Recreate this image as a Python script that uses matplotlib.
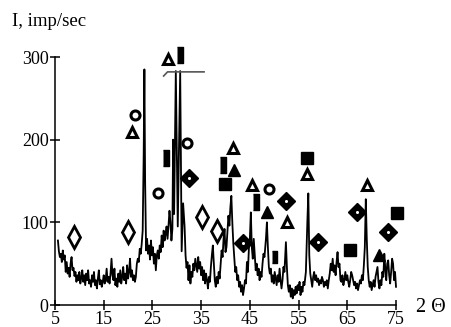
import matplotlib
matplotlib.use('Agg')
import matplotlib.pyplot as plt

# diffraction pattern
two_theta = [
    5.6, 5.8, 6.0, 6.2, 6.4, 6.6, 6.8, 7.0, 7.2, 7.4, 7.6, 7.8, 8.0, 8.2, 8.4, 8.6, 8.8,
    9.0, 9.2, 9.4, 9.6, 9.8, 10.0, 10.2, 10.4, 10.6, 10.8, 11.0, 11.2, 11.4, 11.6, 11.8,
    12.0, 12.2, 12.4, 12.6, 12.8, 13.0, 13.2, 13.4, 13.6, 13.8, 14.0, 14.2, 14.4, 14.6,
    14.8, 15.0, 15.2, 15.4, 15.6, 15.8, 16.0, 16.2, 16.4, 16.6, 16.8, 17.0, 17.2, 17.4,
    17.6, 17.8, 18.0, 18.2, 18.4, 18.6, 18.8, 19.0, 19.2, 19.4, 19.6, 19.8, 20.0, 20.2,
    20.4, 20.6, 20.8, 21.0, 21.2, 21.4, 21.6, 21.8, 22.0, 22.2, 22.4, 22.6, 22.8, 23.0,
    23.2, 23.35, 23.5, 23.7, 23.9, 24.1, 24.3, 24.5, 24.7, 24.9, 25.1, 25.3, 25.5, 25.7,
    25.9, 26.1, 26.3, 26.5, 26.7, 26.9, 27.1, 27.3, 27.5, 27.7, 27.9, 28.1, 28.3, 28.5,
    28.7, 28.9, 29.1, 29.25, 29.45, 29.8, 30.2, 30.7, 31.0, 31.3, 31.6, 31.8, 32.0, 32.2,
    32.4, 32.6, 32.8, 33.0, 33.2, 33.4, 33.6, 33.8, 34.0, 34.2, 34.4, 34.6, 34.8, 35.0,
    35.2, 35.4, 35.6, 35.8, 36.0, 36.2, 36.4, 36.6, 36.8, 37.0, 37.2, 37.4, 37.6, 37.8,
    38.0, 38.2, 38.4, 38.6, 38.8, 39.0, 39.2, 39.4, 39.6, 39.8, 40.0, 40.2, 40.4, 40.6,
    40.8, 41.0, 41.2, 41.4, 41.6, 41.8, 42.0, 42.2, 42.4, 42.6, 42.8, 43.0, 43.2, 43.4,
    43.6, 43.8, 44.0, 44.2, 44.4, 44.6, 44.8, 45.0, 45.2, 45.4, 45.6, 45.8, 46.0, 46.2,
    46.4, 46.6, 46.8, 47.0, 47.2, 47.4, 47.6, 47.8, 48.0, 48.3, 48.5, 48.7, 48.9, 49.1,
    49.3, 49.5, 49.7, 49.9, 50.1, 50.3, 50.5, 50.7, 50.9, 51.1, 51.3, 51.5, 51.7, 51.9,
    52.1, 52.4, 52.6, 52.8, 53.0, 53.2, 53.4, 53.6, 53.8, 54.0, 54.2, 54.4, 54.6, 54.8,
    55.0, 55.2, 55.4, 55.6, 55.8, 56.0, 56.2, 56.5, 56.8, 57.0, 57.2, 57.4, 57.6, 57.8,
    58.0, 58.2, 58.4, 58.6, 58.8, 59.0, 59.2, 59.4, 59.6, 59.8, 60.0, 60.2, 60.4, 60.6,
    60.8, 61.0, 61.2, 61.4, 61.6, 61.8, 62.0, 62.2, 62.4, 62.6, 62.8, 63.0, 63.2, 63.4,
    63.6, 63.8, 64.0, 64.2, 64.4, 64.6, 64.8, 65.0, 65.2, 65.4, 65.6, 65.8, 66.0, 66.2,
    66.4, 66.6, 66.8, 67.0, 67.2, 67.4, 67.6, 67.8, 68.0, 68.2, 68.4, 68.6, 68.8, 69.0,
    69.2, 69.4, 69.6, 69.8, 70.0, 70.2, 70.4, 70.6, 70.8, 71.0, 71.2, 71.4, 71.6, 71.8,
    72.0, 72.2, 72.4, 72.6, 72.8, 73.0, 73.2, 73.4, 73.6, 73.8, 74.0, 74.2, 74.4, 74.6,
    74.8, 75.0,
]
intensity = [
    78, 65, 58, 62, 52, 66, 55, 60, 40, 52, 38, 45, 34, 50, 58, 42, 45,
    35, 40, 28, 36, 30, 40, 26, 33, 42, 28, 36, 24, 38, 30, 42,
    26, 30, 22, 36, 28, 40, 24, 30, 20, 32, 42, 25, 30, 22,
    28, 36, 26, 30, 44, 28, 34, 26, 38, 56, 36, 30, 44, 24,
    32, 22, 38, 28, 42, 26, 34, 46, 30, 38, 26, 48, 32, 40,
    56, 34, 42, 30, 36, 28, 34, 50, 56, 52, 68, 62, 74, 90,
    180, 285, 150, 66, 80, 62, 72, 55, 78, 60, 70, 50, 62, 42,
    60, 66, 56, 72, 64, 84, 70, 90, 78, 86, 95, 80, 96, 114,
    100, 78, 92, 200, 110, 283, 95, 283, 65, 123, 95, 60, 45, 52,
    30, 48, 26, 40, 34, 50, 42, 56, 48, 40, 58, 44, 52, 36,
    46, 30, 42, 26, 38, 30, 20, 34, 28, 46, 60, 72, 50, 30,
    22, 34, 26, 40, 32, 50, 66, 58, 80, 92, 64, 70, 90, 108,
    96, 118, 132, 100, 75, 58, 40, 46, 30, 36, 22, 28, 16, 24,
    12, 20, 30, 26, 52, 40, 68, 80, 112, 70, 56, 80, 60, 42,
    50, 36, 44, 30, 40, 34, 50, 62, 58, 80, 100, 70, 46, 38,
    44, 28, 36, 26, 40, 32, 24, 36, 28, 44, 30, 20, 30, 46,
    40, 76, 46, 24, 16, 24, 10, 20, 8, 18, 12, 22, 14, 24,
    18, 28, 12, 22, 16, 28, 24, 40, 100, 135, 60, 38, 30, 22,
    34, 40, 30, 36, 28, 32, 24, 30, 26, 34, 30, 22, 28, 24,
    30, 20, 30, 38, 50, 42, 56, 40, 48, 36, 52, 64, 46, 50,
    30, 28, 36, 24, 30, 40, 30, 36, 28, 22, 30, 40, 36, 30,
    24, 28, 20, 26, 18, 24, 30, 26, 36, 30, 48, 70, 128, 80,
    46, 30, 22, 28, 18, 24, 30, 22, 34, 40, 46, 28, 20, 30,
    24, 40, 34, 62, 44, 30, 50, 54, 36, 26, 40, 56, 50, 30,
    40, 22,
]

# phase markers
thin_diamond_x = [8.9, 20.0, 35.2, 38.3]
thin_diamond_y = [82, 88, 106, 90]
dot_diamond_x = [32.5, 43.6, 52.4, 59.0, 67.0, 73.4]
dot_diamond_y = [154, 75, 126, 76, 113, 88]
open_tri_x = [20.8, 28.2, 41.5, 45.5, 52.6, 56.8, 69.1]
open_tri_y = [209, 297, 190, 145, 100, 159, 145]
full_tri_x = [41.8, 48.5, 71.5]
full_tri_y = [163, 112, 60]
circle_x = [21.4, 26.2, 32.1, 49.0]
circle_y = [230, 135, 196, 140]
square_x = [39.9, 56.7, 65.6, 75.2]
square_y = [146, 178, 67, 111]
bar_x = [30.7, 27.8, 39.5, 46.3]
bar_y = [302, 178, 169, 124]
small_bar_x = [50.0]
small_bar_y = [58]

# cut mark over the clipped peaks
cap_x = [27.3, 28.1, 35.6]
cap_y = [277, 282, 282]

plt.rcParams['font.family'] = ['Liberation Serif', 'DejaVu Serif']

fig = plt.figure(figsize=(4.51, 3.27), dpi=100)
ax = fig.add_axes([55 / 451, 22 / 327, 341 / 451, 248 / 327])

ax.plot(two_theta, intensity, color='black', lw=1.3, clip_on=False)
ax.plot(cap_x, cap_y, color='#555555', lw=1.2, clip_on=False)

bar = [(-0.2, -0.5), (0.2, -0.5), (0.2, 0.5), (-0.2, 0.5)]
mk = dict(ls='none', clip_on=False, color='black')
ax.plot(thin_diamond_x, thin_diamond_y, marker='d', ms=11, mfc='white', mec='black', mew=2.0, **mk)
ax.plot(dot_diamond_x, dot_diamond_y, marker='D', ms=9.5, mfc='black', mec='black', **mk)
ax.plot(dot_diamond_x, dot_diamond_y, marker='o', ms=2.2, mfc='white', mec='white', mew=0, **mk)
ax.plot(open_tri_x, open_tri_y, marker='^', ms=7.5, mfc='white', mec='black', mew=2.2, **mk)
ax.plot(full_tri_x, full_tri_y, marker='^', ms=9, mfc='black', mec='black', **mk)
ax.plot(circle_x, circle_y, marker='o', ms=6.5, mfc='white', mec='black', mew=2.2, **mk)
ax.plot(square_x, square_y, marker='s', ms=8, mfc='black', mec='black', **mk)
ax.plot(bar_x, bar_y, marker=bar, ms=12, mfc='black', mec='black', **mk)
ax.plot(small_bar_x, small_bar_y, marker=bar, ms=9, mfc='black', mec='black', **mk)

ax.set_xlim(5, 75)
ax.set_ylim(0, 300)
ax.set_xticks(range(5, 76, 10))
ax.set_yticks([0, 100, 200, 300])
for s in ['top', 'right']:
    ax.spines[s].set_visible(False)
for s in ['left', 'bottom']:
    ax.spines[s].set_linewidth(1.1)
ax.tick_params(direction='inout', length=7, width=1.1, labelsize=13, pad=1)
ax.patch.set_alpha(0)

fig.text(12 / 451, 1 - 22 / 327, 'I, imp/sec', fontsize=13.5, ha='left', va='center')
fig.text(416 / 451, 1 - 307 / 327, '2 Θ', fontsize=14.5, ha='left', va='center')

fig.savefig('out.png', dpi=100)
